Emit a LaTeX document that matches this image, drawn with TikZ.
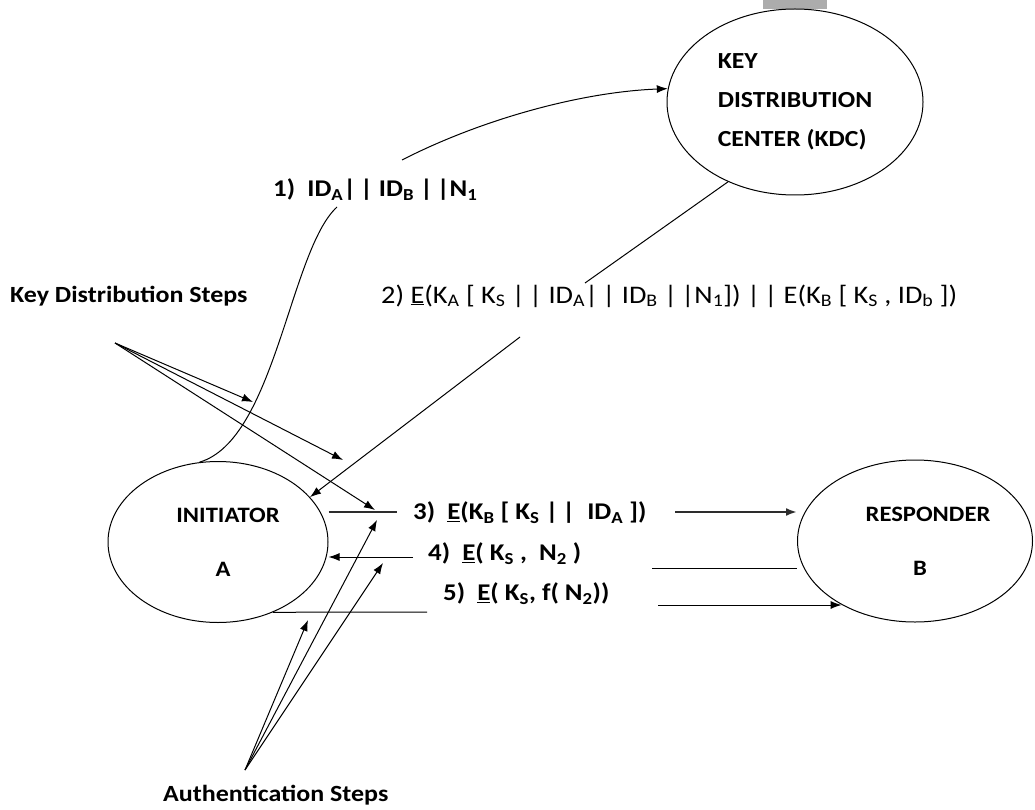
\documentclass[tikz,border=0pt]{standalone}
\usepackage{fontspec}
\setmainfont{Carlito}[FakeStretch=1.12]
\usetikzlibrary{shapes.geometric,arrows.meta}

\newcommand{\sbs}[1]{\textsubscript{#1}}
\newcommand{\ulE}{\underline{E}}

\tikzset{
  party/.style={draw,ellipse,line width=1pt,inner sep=0pt,align=center,
    font=\fontsize{22}{54}\selectfont\bfseries},
  lbl/.style={anchor=west,inner sep=0pt,font=\fontsize{24}{26}\selectfont\bfseries},
  lblthin/.style={anchor=west,inner sep=0pt,font=\fontsize{25.3}{26}\selectfont},
  note/.style={lbl,font=\fontsize{23.2}{26}\selectfont\bfseries},
  wire/.style={line width=1pt},
  tip/.style={wire,-{Latex[length=11pt,width=8pt]}},
  heavy/.style={line width=2.8pt,gray!35!black},
}

\begin{document}
\begin{tikzpicture}[x=1pt,y=-1pt]
  \useasboundingbox (0,0) rectangle (1035,810);
  \fill[gray!65] (763,0) rectangle (827,9);
  % Parties
  \node[party,minimum width=256pt,minimum height=186pt,align=left,
    font=\fontsize{23}{39}\selectfont\bfseries] (kdc) at (795,102)
    {KEY\\DISTRIBUTION\\CENTER (KDC)};
  \node[party,minimum width=220pt,minimum height=161pt] (ini) at (218,542)
    {\hspace*{20pt}INITIATOR\\\hspace*{10pt}A};
  \node[party,minimum width=235pt,minimum height=162pt] (resp) at (915,541)
    {\hspace*{26pt}RESPONDER\\\hspace*{10pt}B};
  % Messages
  \node[lbl] (lab1) at (273,190) {1)\ \ ID\sbs{A}|\,| ID\sbs{B} |\,|N\sbs{1}};
  \node[lblthin] (lab2) at (381,296)
    {2) \ulE(K\sbs{A} [ K\sbs{S} |\,| ID\sbs{A}|\,| ID\sbs{B} |\,|N\sbs{1}]) |\,| E(K\sbs{B} [ K\sbs{S} , ID\sbs{b} ])};
  \node[lbl] (lab3) at (413,513) {3)\ \ \ulE(K\sbs{B} [ K\sbs{S} |\,|\ \ ID\sbs{A} ])};
  \node[lbl] (lab4) at (428,554) {4)\ \ \ulE(\ K\sbs{S} ,\ \ N\sbs{2} )};
  \node[lbl] (lab5) at (443,594) {5)\ \ \ulE( K\sbs{S}, f( N\sbs{2}))};
  \node[note] (kds) at (10,296) {Key Distribution Steps};
  \node[note] (auth) at (163,795) {Authentication Steps};
  % Gaps where the labels cut the lines
  \coordinate (m1a) at (337,207);
  \coordinate (m1b) at (402,160);
  \coordinate (m2a) at (585,283);
  \coordinate (m2b) at (520,337);
  \coordinate (m3a) at (397,512);
  \coordinate (m3b) at (675,512);
  \coordinate (m4a) at (413,557);
  \coordinate (m4b) at (652,568);
  \coordinate (m5a) at (427,612);
  \coordinate (m5b) at (658,605);
  % 1)
  \draw[wire] (ini.103) .. controls (275,440) and (290,250) .. (m1a);
  \draw[tip] (m1b) .. controls (480,120) and (580,92) .. (kdc.174);
  % 2)
  \draw[wire] (kdc.230) -- (m2a);
  \draw[tip] (m2b) -- (ini.26);
  % 3)
  \draw[heavy] (ini.east |- m3a) -- (m3a);
  \draw[heavy,-{Latex[length=11pt,width=8pt]}] (m3b) -- (resp.west |- m3b);
  % 4)
  \draw[tip] (m4a) -- (ini.east |- m4a);
  \draw[wire] (m4b) -- (resp.west |- m4b);
  % 5)
  \draw[wire] (ini.-52) -- (m5a);
  \draw[tip] (m5b) -- (m5b -| resp.-139);
  % Step pointers
  \coordinate (kd) at (115,343);
  \coordinate (au) at (245,770);
  \foreach \p in {(253,402),(343,460),(375,510)}
    \draw[tip] (kd) -- \p;
  \foreach \p in {(308,620),(377,520),(383,563)}
    \draw[tip] (au) -- \p;
\end{tikzpicture}
\end{document}
